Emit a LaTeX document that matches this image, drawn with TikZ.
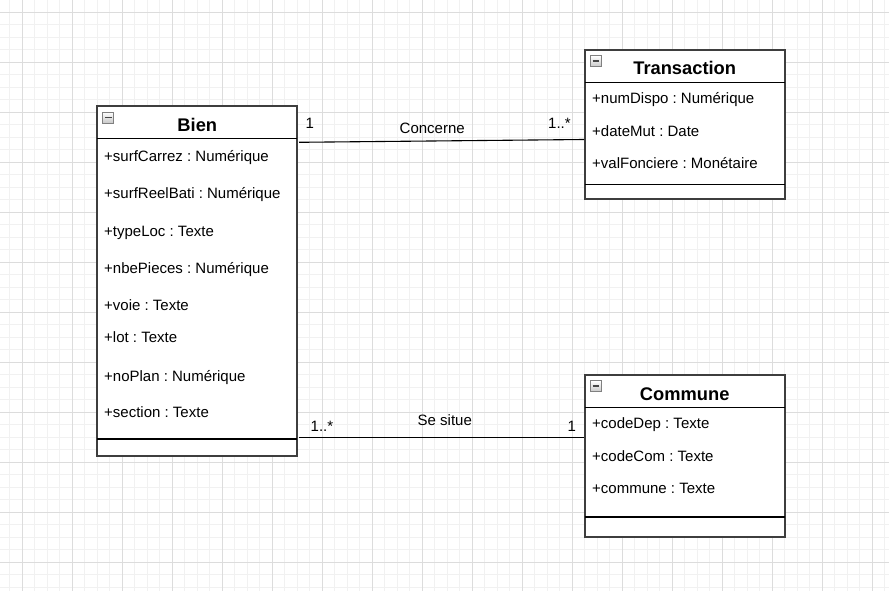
\documentclass[tikz,border=0pt]{standalone}
\usepackage{fontspec}
\setmainfont{Liberation Sans}
\frenchspacing
\usetikzlibrary{calc}
\definecolor{minorgrid}{RGB}{241,241,241}
\definecolor{majorgrid}{RGB}{220,220,220}
\definecolor{boxborder}{RGB}{62,62,62}
\definecolor{iconborder}{RGB}{128,128,128}
\definecolor{iconfill}{RGB}{200,200,200}
\definecolor{iconline}{RGB}{70,70,70}
\tikzset{
  minorline/.style={draw=minorgrid, line width=1pt},
  majorline/.style={draw=majorgrid, line width=1pt},
  umlbox/.style={draw=boxborder, line width=2pt, fill=white, inner sep=0pt, outer sep=0pt, anchor=north west},
  sepline/.style={draw=black, line width=1.1pt},
  title/.style={font=\fontsize{18.3}{20}\selectfont\bfseries, inner sep=0pt, anchor=base},
  attr/.style={font=\fontsize{15}{17}\selectfont, inner sep=0pt, anchor=base west},
  lbl/.style={font=\fontsize{15}{17}\selectfont, inner sep=0pt, anchor=base west},
  assoc/.style={draw=black, line width=1.1pt},
  iconbox/.style={draw=iconborder, line width=0.9pt, top color=white, bottom color=iconfill},
}
\begin{document}
\begin{tikzpicture}[x=1pt,y=-1pt]
\useasboundingbox (0,0) rectangle (889,591);
\fill[white] (0,0) rectangle (889,591);
% grid
\foreach \i in {0,...,70} { \draw[minorline] ({9.8+12.5*\i},0) -- ({9.8+12.5*\i},591); }
\foreach \i in {1,...,47} { \draw[minorline] (0,{-0.2+12.5*\i}) -- (889,{-0.2+12.5*\i}); }
\foreach \i in {0,...,17} { \draw[majorline] ({22.3+50*\i},0) -- ({22.3+50*\i},591); }
\foreach \i in {0,...,11} { \draw[majorline] (0,{12.3+50*\i}) -- (889,{12.3+50*\i}); }

% Bien
\node[umlbox, minimum width=200pt, minimum height=349.7pt] (bien) at (97.3,106) {};
\draw[sepline] ($(bien.north west)+(0,32.3)$) -- ($(bien.north east)+(0,32.3)$);
\draw[sepline] ($(bien.north west)+(0,333)$) -- ($(bien.north east)+(0,333)$);
\draw[iconbox] ($(bien.north west)+(5.5,6)$) rectangle ++(11,11);
\draw[iconline, line width=1.5pt] ($(bien.north west)+(7.8,11.5)$) -- ++(6.4,0);
\node[title] (bienT) at (197.3,131.7) {Bien};
\node[attr] (b1) at (104,161) {+surfCarrez : Numérique};
\node[attr] (b2) at (104,198) {+surfReelBati : Numérique};
\node[attr] (b3) at (104,236) {+typeLoc : Texte};
\node[attr] (b4) at (104,273) {+nbePieces : Numérique};
\node[attr] (b5) at (104,310.5) {+voie : Texte};
\node[attr] (b6) at (104,342.8) {+lot : Texte};
\node[attr] (b7) at (104,381) {+noPlan : Numérique};
\node[attr] (b8) at (104,417.5) {+section : Texte};

% Transaction
\node[umlbox, minimum width=200pt, minimum height=149.3pt] (trans) at (584.7,49.7) {};
\draw[sepline] ($(trans.north west)+(0,32.6)$) -- ($(trans.north east)+(0,32.6)$);
\draw[sepline] ($(trans.north west)+(0,134.6)$) -- ($(trans.north east)+(0,134.6)$);
\draw[iconbox] ($(trans.north west)+(5.5,6)$) rectangle ++(11,11);
\draw[iconline, line width=1.5pt] ($(trans.north west)+(7.8,11.5)$) -- ++(6.4,0);
\node[title] (transT) at (684.7,75) {Transaction};
\node[attr] (t1) at (592,103.3) {+numDispo : Numérique};
\node[attr] (t2) at (592,136.7) {+dateMut : Date};
\node[attr] (t3) at (592,168.3) {+valFonciere : Monétaire};

% Commune
\node[umlbox, minimum width=200pt, minimum height=162pt] (comm) at (584.7,374.7) {};
\draw[sepline] ($(comm.north west)+(0,32.6)$) -- ($(comm.north east)+(0,32.6)$);
\draw[sepline] ($(comm.north west)+(0,142.3)$) -- ($(comm.north east)+(0,142.3)$);
\draw[iconbox] ($(comm.north west)+(5.5,6)$) rectangle ++(11,11);
\draw[iconline, line width=1.5pt] ($(comm.north west)+(7.8,11.5)$) -- ++(6.4,0);
\node[title] (commT) at (684.7,400) {Commune};
\node[attr] (c1) at (592,428.3) {+codeDep : Texte};
\node[attr] (c2) at (592,461.7) {+codeCom : Texte};
\node[attr] (c3) at (592,493.3) {+commune : Texte};

% associations
\coordinate (concA) at ($(bien.north east)+(1.7,36.3)$);
\coordinate (concB) at ($(trans.north west)+(-0.7,89.8)$);
\draw[assoc] (concA) -- (concB);
\node[lbl] (l1) at (305.5,128.5) {1};
\node[lbl] (l2) at (399.5,134) {Concerne};
\node[lbl] (l3) at (548,129) {1..*};

\coordinate (sitA) at ($(bien.north east)+(1.7,331.3)$);
\coordinate (sitB) at ($(comm.north west)+(-0.7,62.6)$);
\draw[assoc] (sitA) -- (sitB);
\node[lbl] (l4) at (310.5,431.7) {1..*};
\node[lbl] (l5) at (417.5,425) {Se situe};
\node[lbl] (l6) at (567.5,431) {1};
\end{tikzpicture}
\end{document}
